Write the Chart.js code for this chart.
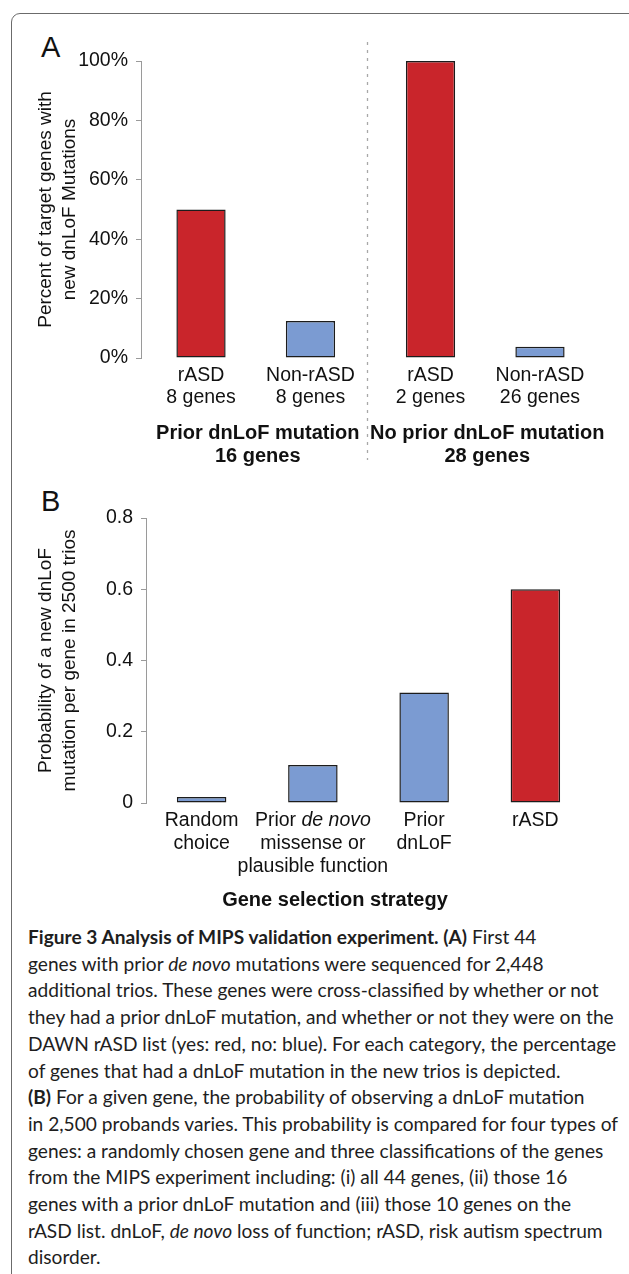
<!DOCTYPE html>
<html>
<head>
<meta charset="utf-8">
<script src="https://cdn.jsdelivr.net/npm/chart.js@4/dist/chart.umd.min.js"></script>
<style>
  body { margin: 0; background: #fff; width: 629px; height: 1274px; overflow: hidden; position: relative; }
  .frame { position: absolute; left: 11px; top: 13px; width: 700px; height: 1400px; border: 1.5px solid #6b6b6b; border-radius: 9px; box-sizing: border-box; }
  .panel { position: absolute; font-family: 'Liberation Sans', Arial, sans-serif; font-size: 29px; line-height: 29px; color: #111; }
  .wrap { position: absolute; left: 0; width: 629px; }
  .caption { position: absolute; left: 28px; top: 924px; font-family: Lato, 'Open Sans', sans-serif; font-size: 18.5px; line-height: 26.7px; color: #1e1e1e; white-space: nowrap; transform-origin: 0 0; }
  .caption .ln { display: block; width: max-content; }
  .caption b { font-weight: 700; }
</style>
</head>
<body>
<div class="frame"></div>
<div class="panel" style="left:41px;top:33px">A</div>
<div class="panel" style="left:41px;top:487px">B</div>
<div class="wrap" style="top:0;height:480px"><canvas id="chartA" width="629" height="480"></canvas></div>
<div class="wrap" style="top:480px;height:430px"><canvas id="chartB" width="629" height="430"></canvas></div>
<div class="caption" id="caption">
  <span class="ln"><b>Figure 3 Analysis of MIPS validation experiment. (A)</b> First 44</span>
  <span class="ln">genes with prior <i>de novo</i> mutations were sequenced for 2,448</span>
  <span class="ln">additional trios. These genes were cross-classified by whether or not</span>
  <span class="ln">they had a prior dnLoF mutation, and whether or not they were on the</span>
  <span class="ln">DAWN rASD list (yes: red, no: blue). For each category, the percentage</span>
  <span class="ln">of genes that had a dnLoF mutation in the new trios is depicted.</span>
  <span class="ln"><b>(B)</b> For a given gene, the probability of observing a dnLoF mutation</span>
  <span class="ln">in 2,500 probands varies. This probability is compared for four types of</span>
  <span class="ln">genes: a randomly chosen gene and three classifications of the genes</span>
  <span class="ln">from the MIPS experiment including: (i) all 44 genes, (ii) those 16</span>
  <span class="ln">genes with a prior dnLoF mutation and (iii) those 10 genes on the</span>
  <span class="ln">rASD list. dnLoF, <i>de novo</i> loss of function; rASD, risk autism spectrum</span>
  <span class="ln">disorder.</span>
</div>
<script>
// 패널 A 데이터
const groupNames = ['Prior dnLoF mutation', 'No prior dnLoF mutation'];
const groupGeneTotals = ['16 genes', '28 genes'];
const seriesNames = ['rASD', 'Non-rASD'];
const rasdPercent = [50, 100];
const nonRasdPercent = [12.5, 3.8];
const rasdGeneCounts = ['8 genes', '2 genes'];
const nonRasdGeneCounts = ['8 genes', '26 genes'];
const percentTicks = [0, 20, 40, 60, 80, 100];

// 패널 B 데이터 (*...* 는 기울임꼴)
const strategyLabels = [
    ['Random', 'choice'],
    ['Prior *de novo*', 'missense or', 'plausible function'],
    ['Prior', 'dnLoF'],
    ['rASD']
];
const probabilityValues = [0.017, 0.107, 0.31, 0.60];
const probabilityTicks = [0, 0.2, 0.4, 0.6, 0.8];

// 색상
const RED = '#C9252B';
const BLUE = '#7B9BD2';
const barColorsB = [BLUE, BLUE, BLUE, RED];
const FONT = "'Liberation Sans', Arial, sans-serif";
const AXIS_GRAY = '#9a9a9a';

Chart.defaults.font.family = FONT;
Chart.defaults.color = '#111';

// 공통 y축 설정
function yAxis(ticks, width, titleLines, fmt) {
    return {
        min: ticks[0],
        max: ticks[ticks.length - 1],
        afterBuildTicks: s => { s.ticks = ticks.map(v => ({ value: v })); },
        afterFit: s => { s.width = width; },
        grid: { drawOnChartArea: false, drawTicks: true, tickLength: 5, color: AXIS_GRAY, lineWidth: 1 },
        border: { display: true, color: AXIS_GRAY, width: 1 },
        ticks: { font: { size: 19.5 }, color: '#111', padding: 8, callback: fmt },
        title: { display: true, text: titleLines, font: { size: 19, lineHeight: '24px' }, color: '#111', padding: { top: 34, bottom: 0 } }
    };
}

// 가운데 정렬된 한 줄 (기울임 구간 포함) 그리기
function drawRichLine(ctx, line, cx, y, size) {
    const parts = line.split('*').map((t, k) => ({ t: t, italic: k % 2 === 1 })).filter(p => p.t);
    let total = 0;
    parts.forEach(p => {
        ctx.font = (p.italic ? 'italic ' : '') + size + 'px ' + FONT;
        p.w = ctx.measureText(p.t).width;
        total += p.w;
    });
    let x = cx - total / 2;
    ctx.textAlign = 'left';
    parts.forEach(p => {
        ctx.font = (p.italic ? 'italic ' : '') + size + 'px ' + FONT;
        ctx.fillText(p.t, x, y);
        x += p.w;
    });
}

// 패널 A 라벨과 점선
const panelALabels = {
    id: 'panelALabels',
    afterDraw(chart) {
        const ctx = chart.ctx;
        const area = chart.chartArea;
        const xs = chart.scales.x;
        ctx.save();
        const midX = (xs.getPixelForValue(0) + xs.getPixelForValue(1)) / 2 - 3;
        ctx.strokeStyle = '#a8a8a8';
        ctx.lineWidth = 1.3;
        ctx.setLineDash([3, 5]);
        ctx.beginPath();
        ctx.moveTo(midX, area.top - 19);
        ctx.lineTo(midX, area.bottom + 102);
        ctx.stroke();
        ctx.setLineDash([]);

        ctx.fillStyle = '#111';
        ctx.textAlign = 'center';
        ctx.textBaseline = 'middle';
        ctx.font = '19.5px ' + FONT;
        const counts = [rasdGeneCounts, nonRasdGeneCounts];
        chart.data.datasets.forEach((ds, d) => {
            chart.getDatasetMeta(d).data.forEach((bar, i) => {
                ctx.fillText(seriesNames[d], bar.x, area.bottom + 18);
                ctx.fillText(counts[d][i], bar.x, area.bottom + 40);
            });
        });
        ctx.font = 'bold 20px ' + FONT;
        groupNames.forEach((name, i) => {
            const x = xs.getPixelForValue(i) + 2;
            ctx.fillText(name, x, area.bottom + 75);
            ctx.fillText(groupGeneTotals[i], x, area.bottom + 98);
        });
        ctx.restore();
    }
};

// 패널 B 라벨
const panelBLabels = {
    id: 'panelBLabels',
    afterDraw(chart) {
        const ctx = chart.ctx;
        const area = chart.chartArea;
        const xs = chart.scales.x;
        ctx.save();
        ctx.fillStyle = '#111';
        ctx.textBaseline = 'middle';
        strategyLabels.forEach((lines, i) => {
            const cx = xs.getPixelForValue(i);
            lines.forEach((line, k) => drawRichLine(ctx, line, cx, area.bottom + 18 + k * 23, 19.5));
        });
        ctx.textAlign = 'center';
        ctx.font = 'bold 20px ' + FONT;
        ctx.fillText('Gene selection strategy', 335, area.bottom + 97);
        ctx.restore();
    }
};

const barStyle = { borderColor: '#1c1c1c', borderWidth: 1.5, borderSkipped: false };

new Chart(document.getElementById('chartA'), {
    type: 'bar',
    data: {
        labels: groupNames,
        datasets: [
            Object.assign({ label: seriesNames[0], data: rasdPercent, backgroundColor: RED }, barStyle),
            Object.assign({ label: seriesNames[1], data: nonRasdPercent, backgroundColor: BLUE }, barStyle)
        ]
    },
    options: {
        responsive: false,
        animation: false,
        categoryPercentage: 0.954,
        barPercentage: 0.45,
        layout: { padding: { left: 0, top: 61, right: 29, bottom: 0 } },
        plugins: { legend: { display: false }, tooltip: { enabled: false } },
        scales: {
            x: {
                afterFit: s => { s.height = 122; },
                grid: { display: false, drawTicks: false },
                border: { display: false },
                ticks: { display: false }
            },
            y: yAxis(percentTicks, 141, ['Percent of target genes with', 'new dnLoF Mutations'], v => v + '%')
        }
    },
    plugins: [panelALabels]
});

new Chart(document.getElementById('chartB'), {
    type: 'bar',
    data: {
        labels: strategyLabels.map(l => l.join(' ').replace(/\*/g, '')),
        datasets: [
            Object.assign({ label: 'Probability', data: probabilityValues, backgroundColor: barColorsB }, barStyle)
        ]
    },
    options: {
        responsive: false,
        animation: false,
        categoryPercentage: 1,
        barPercentage: 0.445,
        layout: { padding: { left: 0, top: 38, right: 38, bottom: 0 } },
        plugins: { legend: { display: false }, tooltip: { enabled: false } },
        scales: {
            x: {
                afterFit: s => { s.height = 107; },
                grid: { display: false, drawTicks: false },
                border: { display: false },
                ticks: { display: false }
            },
            y: yAxis(probabilityTicks, 146, ['Probability of a new dnLoF', 'mutation per gene in 2500 trios'], v => String(Math.round(v * 10) / 10))
        }
    },
    plugins: [panelBLabels]
});

// 캡션 가로 폭 맞추기
function fitCaption() {
    const cap = document.getElementById('caption');
    let widest = 0;
    cap.querySelectorAll('.ln').forEach(l => { widest = Math.max(widest, l.getBoundingClientRect().width); });
    if (widest > 0) cap.style.transform = 'scaleX(' + (590 / widest) + ')';
}
fitCaption();
</script>
</body>
</html>
